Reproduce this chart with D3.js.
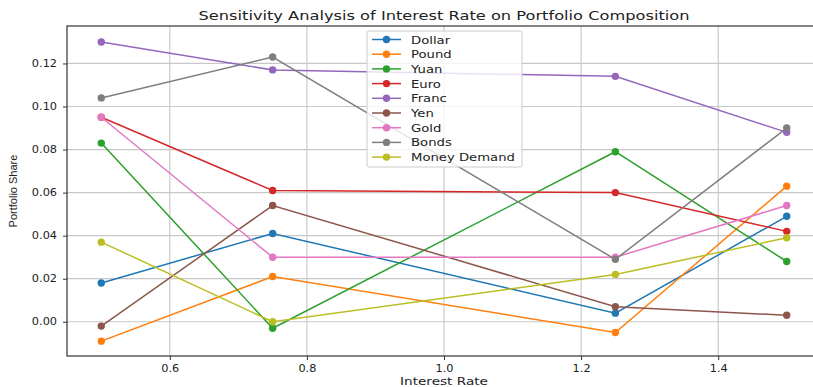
<!DOCTYPE html>
<html>
<head>
<meta charset="utf-8">
<script src="https://d3js.org/d3.v7.min.js"></script>
<style>
body { margin: 0; background: #fff; }
svg { display: block; font-family: 'DejaVu Sans', sans-serif; }
</style>
</head>
<body>
<svg id="chart"></svg>
<script>
// Data
var rates = [0.5, 0.75, 1.25, 1.5];
var names = ["Dollar", "Pound", "Yuan", "Euro", "Franc", "Yen", "Gold", "Bonds", "Money Demand"];
var colors = ["#1f77b4", "#ff7f0e", "#2ca02c", "#d62728", "#9467bd", "#8c564b", "#e377c2", "#7f7f7f", "#bcbd22"];
var dollar = [0.018, 0.041, 0.004, 0.049];
var pound = [-0.009, 0.021, -0.005, 0.063];
var yuan = [0.083, -0.003, 0.079, 0.028];
var euro = [0.095, 0.061, 0.060, 0.042];
var franc = [0.130, 0.117, 0.114, 0.088];
var yen = [-0.002, 0.054, 0.007, 0.003];
var gold = [0.095, 0.030, 0.030, 0.054];
var bonds = [0.104, 0.123, 0.029, 0.090];
var money = [0.037, 0.000, 0.022, 0.039];
var xTicks = [0.6, 0.8, 1.0, 1.2, 1.4];
var yTicks = [0.00, 0.02, 0.04, 0.06, 0.08, 0.10, 0.12];

var series = [dollar, pound, yuan, euro, franc, yen, gold, bonds, money];

var width = 813, height = 387;
var mLeft = 67, mRight = 821, mTop = 26, mBottom = 356;

var svg = d3.select("#chart").attr("width", width).attr("height", height);

var x = d3.scaleLinear().domain([0.45, 1.55]).range([mLeft, mRight]);
var y = d3.scaleLinear().domain([-0.0159, 0.1374]).range([mBottom, mTop]);

// the picture is squeezed wider than it is tall, so text glyphs get stretched
function stretch(t, factor) {
  t.each(function () {
    var len = this.getComputedTextLength();
    d3.select(this).attr("textLength", len * factor).attr("lengthAdjust", "spacingAndGlyphs");
  });
}

// grid
svg.append("g").selectAll("line").data(xTicks).enter().append("line")
  .attr("x1", function (d) { return x(d); }).attr("x2", function (d) { return x(d); })
  .attr("y1", mTop).attr("y2", mBottom)
  .attr("stroke", "#b0b0b0").attr("stroke-width", 0.8);
svg.append("g").selectAll("line").data(yTicks).enter().append("line")
  .attr("y1", function (d) { return y(d); }).attr("y2", function (d) { return y(d); })
  .attr("x1", mLeft).attr("x2", mRight)
  .attr("stroke", "#c8c8c8").attr("stroke-width", 1.2);

// axes
var xAxis = d3.axisBottom(x).tickValues(xTicks).tickFormat(d3.format(".1f")).tickSize(4).tickPadding(5);
var yAxis = d3.axisLeft(y).tickValues(yTicks).tickFormat(d3.format(".2f")).tickSize(4).tickPadding(6);

var gx = svg.append("g").attr("transform", "translate(0," + mBottom + ")").call(xAxis);
var gy = svg.append("g").attr("transform", "translate(" + mLeft + ",0)").call(yAxis);
[gx, gy].forEach(function (g) {
  g.select(".domain").remove();
  g.selectAll("text").attr("font-size", 10).attr("fill", "#222").attr("font-family", "'DejaVu Sans', sans-serif");
  g.selectAll("line").attr("stroke", "#333");
  stretch(g.selectAll("text"), 1.13);
});

// spines
svg.append("rect").attr("x", mLeft).attr("y", mTop).attr("width", mRight - mLeft).attr("height", mBottom - mTop)
  .attr("fill", "none").attr("stroke", "#333").attr("stroke-width", 1.2);

// lines
var line = d3.line().x(function (d, i) { return x(rates[i]); }).y(function (d) { return y(d); });

series.forEach(function (s, k) {
  var g = svg.append("g");
  g.append("path").datum(s).attr("d", line).attr("fill", "none")
    .attr("stroke", colors[k]).attr("stroke-width", 1.5);
  g.selectAll("circle").data(s).enter().append("circle")
    .attr("cx", function (d, i) { return x(rates[i]); })
    .attr("cy", function (d) { return y(d); })
    .attr("r", 3.7).attr("fill", colors[k]);
});

// titles
svg.append("text").attr("x", 444).attr("y", 20).attr("text-anchor", "middle")
  .attr("font-size", 12.5).attr("fill", "#222")
  .attr("textLength", 491).attr("lengthAdjust", "spacingAndGlyphs")
  .text("Sensitivity Analysis of Interest Rate on Portfolio Composition");
svg.append("text").attr("x", 444).attr("y", 385).attr("text-anchor", "middle")
  .attr("font-size", 10.5).attr("fill", "#222")
  .attr("textLength", 88).attr("lengthAdjust", "spacingAndGlyphs")
  .text("Interest Rate");
svg.append("text").attr("transform", "translate(17," + ((mTop + mBottom) / 2) + ") rotate(-90)")
  .attr("text-anchor", "middle").attr("font-size", 11).attr("fill", "#222")
  .attr("font-family", "'Liberation Sans', sans-serif").text("Portfolio Share");

// legend
var lg = svg.append("g").attr("transform", "translate(367,31)");
lg.append("rect").attr("width", 155).attr("height", 136).attr("rx", 2)
  .attr("fill", "#fff").attr("fill-opacity", 0.8).attr("stroke", "#ccc");
names.forEach(function (n, k) {
  var yy = 8.5 + k * 14.7;
  lg.append("line").attr("x1", 5).attr("x2", 34).attr("y1", yy).attr("y2", yy)
    .attr("stroke", colors[k]).attr("stroke-width", 1.5);
  lg.append("circle").attr("cx", 19.5).attr("cy", yy).attr("r", 3.7).attr("fill", colors[k]);
  var t = lg.append("text").attr("x", 44).attr("y", yy + 4).attr("font-size", 11).attr("fill", "#222").text(n);
  stretch(t, 1.2);
});
</script>
</body>
</html>
